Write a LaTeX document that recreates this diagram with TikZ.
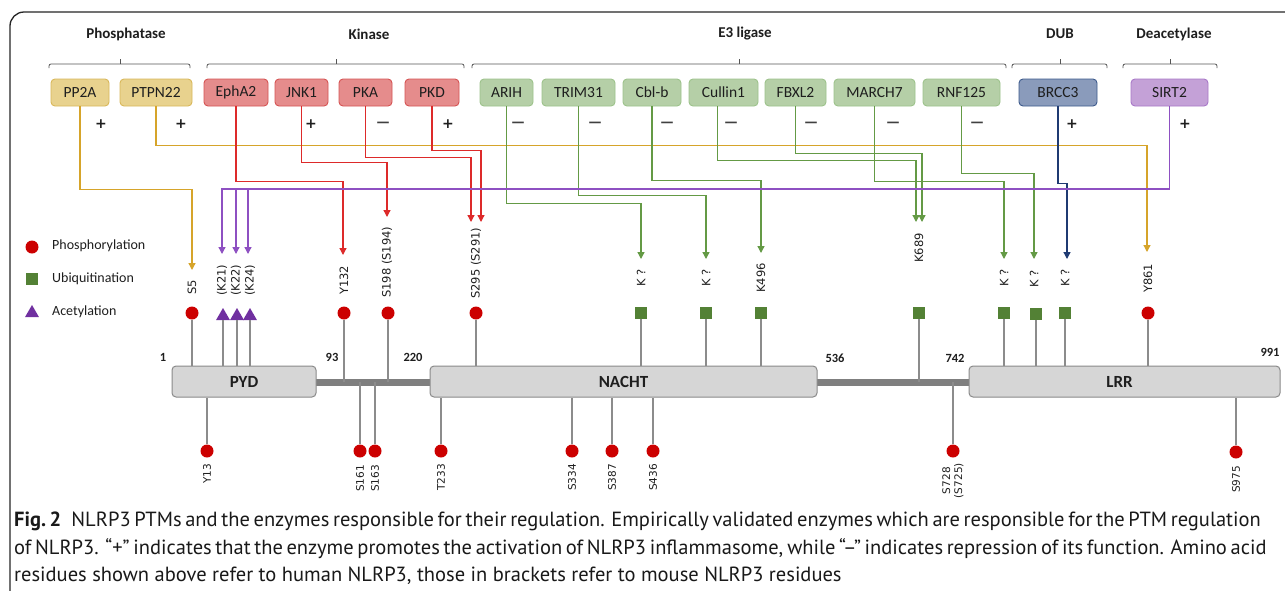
\documentclass[tikz,border=0pt]{standalone}
\usepackage{fontspec}
\setmainfont{Carlito}
\newfontfamily\resfont{DejaVu Sans}
\newfontfamily\signfont{DejaVu Sans}
\newfontfamily\capfont{PT Sans}
\usetikzlibrary{arrows.meta,shapes.geometric}
\definecolor{phF}{HTML}{E8D28E}\definecolor{phD}{HTML}{D9B85A}
\definecolor{kiF}{HTML}{E58C8C}\definecolor{kiD}{HTML}{D65454}
\definecolor{e3F}{HTML}{B5CFA7}\definecolor{e3D}{HTML}{9DC38B}
\definecolor{dbF}{HTML}{8A9BBB}\definecolor{dbD}{HTML}{3D5A8C}
\definecolor{siF}{HTML}{C4A1D7}\definecolor{siD}{HTML}{A878C8}
\definecolor{cGold}{HTML}{D6A42A}
\definecolor{cRed}{HTML}{DD2A2A}
\definecolor{cGreen}{HTML}{649A45}
\definecolor{cPurp}{HTML}{8E50C2}
\definecolor{cNavy}{HTML}{1F3A72}
\definecolor{phosC}{HTML}{CC0000}
\definecolor{ubiC}{HTML}{538135}
\definecolor{acetC}{HTML}{7030A0}
\definecolor{stemC}{HTML}{8C8C8C}
\definecolor{domF}{HTML}{D6D6D6}
\definecolor{domD}{HTML}{8A8A8A}
\definecolor{lnkC}{HTML}{7F7F7F}
\definecolor{txtC}{HTML}{1E1E1E}
\definecolor{brkC}{HTML}{555555}
\begin{document}
\begin{tikzpicture}[x=1pt,y=-1pt,
  headtext/.style={font=\fontsize{15}{15}\selectfont\bfseries, text=txtC, inner sep=0pt},
  brk/.style={draw=brkC, line width=0.8pt, rounded corners=2pt},
  enz/.style={rounded corners=4pt, minimum height=27pt, inner sep=0pt, line width=0.9pt,
              font=\fontsize{15.5}{15.5}\selectfont, text=txtC},
  phb/.style={enz, fill=phF, draw=phD},
  kib/.style={enz, fill=kiF, draw=kiD},
  e3b/.style={enz, fill=e3F, draw=e3D},
  dbb/.style={enz, fill=dbF, draw=dbD},
  sib/.style={enz, fill=siF, draw=siD},
  plussign/.style={font=\signfont\bfseries\fontsize{14}{14}\selectfont, text=txtC, inner sep=0pt},
  minussign/.style={font=\signfont\bfseries\fontsize{13}{13}\selectfont, text=black!75, inner sep=0pt},
  conn/.style={line width=1.3pt, -{Triangle[width=7pt,length=7pt]}},
  phos/.style={circle, fill=phosC, minimum size=13pt, inner sep=0pt},
  ubi/.style={rectangle, fill=ubiC, minimum size=12pt, inner sep=0pt},
  acet/.style={regular polygon, regular polygon sides=3, fill=acetC, minimum size=16pt, inner sep=0pt},
  stemline/.style={draw=stemC, line width=1.2pt},
  toplab/.style={rotate=90, anchor=west, inner sep=0pt, font=\resfont\fontsize{11.5}{12}\selectfont, text=black!88},
  botlab/.style={rotate=90, anchor=east, inner sep=0pt, align=center, font=\resfont\fontsize{10.5}{12}\selectfont, text=black!88},
  dom/.style={draw=domD, fill=domF, rounded corners=4pt, minimum height=31pt, line width=1pt, inner sep=0pt,
              font=\fontsize{17}{17}\selectfont\bfseries, text=txtC},
  linkerbar/.style={draw=lnkC, line width=7pt},
  numtext/.style={font=\fontsize{12.5}{12.5}\selectfont\bfseries, text=txtC, inner sep=0pt},
  lgtext/.style={anchor=west, inner sep=0pt, font=\fontsize{14}{14}\selectfont, text=txtC},
  captext/.style={anchor=west, inner sep=0pt, font=\capfont\fontsize{20.5}{20.5}\selectfont, text=black!90}
]
\useasboundingbox (0,0) rectangle (1285,590);
\fill[white] (0,0) rectangle (1285,590);
\draw[line width=1.3pt, draw=black!85, rounded corners=14pt] (1300,12) -- (10,12) -- (10,600);

% group headings
\node[headtext] (h-ph) at (126,34) {Phosphatase};
\node[headtext] (h-ki) at (369,34) {Kinase};
\node[headtext] (h-e3) at (745,34) {E3 ligase};
\node[headtext] (h-dub) at (1060,34) {DUB};
\node[headtext] (h-dac) at (1174,34) {Deacetylase};

% brackets
\draw[brk] (49,68) |- (190,64) -- (190,68);   \draw[brk] (120,64) -- (120,59);
\draw[brk] (207,68) |- (464,64) -- (464,68);  \draw[brk] (336,64) -- (336,59);
\draw[brk] (472,68) |- (1006,64) -- (1006,68); \draw[brk] (739,64) -- (739,59);
\draw[brk] (1012,68) |- (1107,64) -- (1107,68); \draw[brk] (1060,64) -- (1060,59);
\draw[brk] (1123,68) |- (1217,64) -- (1217,68); \draw[brk] (1170,64) -- (1170,59);

% enzyme boxes
\node[phb, minimum width=58pt] (pp2a) at (80,92.5) {PP2A};
\node[phb, minimum width=72pt] (ptpn22) at (156,92.5) {PTPN22};
\node[kib, minimum width=64pt] (epha2) at (236,92.5) {EphA2};
\node[kib, minimum width=53pt] (jnk1) at (301.5,92.5) {JNK1};
\node[kib, minimum width=53pt] (pka) at (365.5,92.5) {PKA};
\node[kib, minimum width=54pt] (pkd) at (432,92.5) {PKD};
\node[e3b, minimum width=53pt] (arih) at (506.5,92.5) {ARIH};
\node[e3b, minimum width=73pt] (trim31) at (578.5,92.5) {TRIM31};
\node[e3b, minimum width=58pt] (cblb) at (652,92.5) {Cbl-b};
\node[e3b, minimum width=69pt] (cullin1) at (723.5,92.5) {Cullin1};
\node[e3b, minimum width=61pt] (fbxl2) at (795.5,92.5) {FBXL2};
\node[e3b, minimum width=81pt] (march7) at (874.5,92.5) {MARCH7};
\node[e3b, minimum width=77pt] (rnf125) at (961.5,92.5) {RNF125};
\node[dbb, minimum width=78pt] (brcc3) at (1058,92.5) {BRCC3};
\node[sib, minimum width=77pt] (sirt2) at (1169.5,92.5) {SIRT2};

% signs
\node[plussign] (s1) at (101,124) {+};
\node[plussign] (s2) at (181,124) {+};
\node[plussign] (s3) at (311,124) {+};
\node[minussign] (s4) at (383,124) {—};
\node[plussign] (s5) at (448,124) {+};
\node[minussign] (s6) at (518,124) {—};
\node[minussign] (s7) at (595,124) {—};
\node[minussign] (s8) at (667,124) {—};
\node[minussign] (s9) at (731,124) {—};
\node[minussign] (s10) at (811,124) {—};
\node[minussign] (s11) at (893,124) {—};
\node[minussign] (s12) at (977,124) {—};
\node[plussign] (s13) at (1072,124) {+};
\node[plussign] (s14) at (1185,124) {+};

% legend
\node[phos] (lg-p) at (32,247) {};
\node[lgtext] (lg-pt) at (52,246) {Phosphorylation};
\node[ubi] (lg-u) at (32,279) {};
\node[lgtext] (lg-ut) at (52,279) {Ubiquitination};
\node[acet] (lg-a) at (32,313) {};
\node[lgtext] (lg-at) at (52,312) {Acetylation};

% domains
\coordinate (lnk) at (0,382);
\draw[linkerbar] (316,382) -- (430,382);
\draw[linkerbar] (817,382) -- (969,382);
\node[dom, minimum width=144pt] (pyd) at (244,381.5) {PYD};
\node[dom, minimum width=387pt] (nacht) at (623.5,381.5) {NACHT};
\node[dom, minimum width=311pt] (lrr) at (1124.5,381.5) {\hspace*{-10pt}LRR};

% numbers
\node[numtext] (n1) at (163,357) {1};
\node[numtext] (n93) at (332,357) {93};
\node[numtext] (n220) at (413,357) {220};
\node[numtext] (n536) at (835,358) {536};
\node[numtext] (n742) at (955,358) {742};
\node[numtext] (n991) at (1270,352) {991};

% top markers
\node[phos] (m-s5) at (192,313) {};
\node[acet] (m-k21) at (223,316) {};
\node[acet] (m-k22) at (237,316) {};
\node[acet] (m-k24) at (250,316) {};
\node[phos] (m-y132) at (344,313) {};
\node[phos] (m-s198) at (388,313) {};
\node[phos] (m-s295) at (476,313) {};
\node[ubi] (m-kq1) at (641,313) {};
\node[ubi] (m-kq2) at (706,313) {};
\node[ubi] (m-k496) at (761,313) {};
\node[ubi] (m-k689) at (919,313) {};
\node[ubi] (m-kq3) at (1004,313) {};
\node[ubi] (m-kq4) at (1036,314) {};
\node[ubi] (m-kq5) at (1065,313) {};
\node[phos] (m-y861) at (1148,313) {};

\draw[stemline] (m-s5.south) -- (m-s5 |- pyd.north);
\draw[stemline] (m-k21.south) -- (m-k21 |- pyd.north);
\draw[stemline] (m-k22.south) -- (m-k22 |- pyd.north);
\draw[stemline] (m-k24.south) -- (m-k24 |- pyd.north);
\draw[stemline] (m-y132.south) -- (m-y132 |- lnk);
\draw[stemline] (m-s198.south) -- (m-s198 |- lnk);
\draw[stemline] (m-s295.south) -- (m-s295 |- nacht.north);
\draw[stemline] (m-kq1.south) -- (m-kq1 |- nacht.north);
\draw[stemline] (m-kq2.south) -- (m-kq2 |- nacht.north);
\draw[stemline] (m-k496.south) -- (m-k496 |- nacht.north);
\draw[stemline] (m-k689.south) -- (m-k689 |- lnk);
\draw[stemline] (m-kq3.south) -- (m-kq3 |- lrr.north);
\draw[stemline] (m-kq4.south) -- (m-kq4 |- lrr.north);
\draw[stemline] (m-kq5.south) -- (m-kq5 |- lrr.north);
\draw[stemline] (m-y861.south) -- (m-y861 |- lrr.north);

% top labels
\node[toplab] (l-s5) at (192,295) {S5};
\node[toplab] (l-k21) at (222,296) {(K21)};
\node[toplab] (l-k22) at (236,296) {(K22)};
\node[toplab] (l-k24) at (250,296) {(K24)};
\node[toplab] (l-y132) at (344,295) {Y132};
\node[toplab] (l-s198) at (387,298) {S198 (S194)};
\node[toplab] (l-s295) at (476,299) {S295 (S291)};
\node[toplab] (l-kq1) at (641,287) {K ?};
\node[toplab] (l-kq2) at (706,287) {K ?};
\node[toplab] (l-k496) at (761,293) {K496};
\node[toplab] (l-k689) at (919,263) {K689};
\node[toplab] (l-kq3) at (1004,287) {K ?};
\node[toplab] (l-kq4) at (1034,288) {K ?};
\node[toplab] (l-kq5) at (1065,287) {K ?};
\node[toplab] (l-y861) at (1148,293) {Y861};

% bottom markers
\node[phos] (m-y13) at (207,451) {};
\node[phos] (m-s161) at (360,451) {};
\node[phos] (m-s163) at (375,451) {};
\node[phos] (m-t233) at (441,451) {};
\node[phos] (m-s334) at (572,451) {};
\node[phos] (m-s387) at (612,451) {};
\node[phos] (m-s436) at (653,451) {};
\node[phos] (m-s728) at (953,451) {};
\node[phos] (m-s975) at (1236,452) {};
\draw[stemline] (m-y13.north) -- (m-y13 |- pyd.south);
\draw[stemline] (m-s161.north) -- (m-s161 |- lnk);
\draw[stemline] (m-s163.north) -- (m-s163 |- lnk);
\draw[stemline] (m-t233.north) -- (m-t233 |- nacht.south);
\draw[stemline] (m-s334.north) -- (m-s334 |- nacht.south);
\draw[stemline] (m-s387.north) -- (m-s387 |- nacht.south);
\draw[stemline] (m-s436.north) -- (m-s436 |- nacht.south);
\draw[stemline] (m-s728.north) -- (m-s728 |- lnk);
\draw[stemline] (m-s975.north) -- (m-s975 |- lrr.south);

% bottom labels
\node[botlab] (l-y13) at (207,464) {Y13};
\node[botlab] (l-s161) at (360,465) {S161};
\node[botlab] (l-s163) at (375,465) {S163};
\node[botlab] (l-t233) at (441,464) {T233};
\node[botlab] (l-s334) at (572,464) {S334};
\node[botlab] (l-s387) at (612,464) {S387};
\node[botlab] (l-s436) at (653,464) {S436};
\node[botlab] (l-s728) at (953,463) {S728\\(S725)};
\node[botlab] (l-s975) at (1236,466) {S975};

% arrow tips
\coordinate (a-s5) at (192,270);
\coordinate (a-k21) at (222,254);
\coordinate (a-k22) at (236,254);
\coordinate (a-k24) at (248,254);
\coordinate (a-y132) at (343,255);
\coordinate (a-s198) at (387,217);
\coordinate (a-s295a) at (471,222);
\coordinate (a-s295b) at (481,222);
\coordinate (a-kq1) at (641,259);
\coordinate (a-kq2) at (706,259);
\coordinate (a-k496) at (761,253);
\coordinate (a-k689a) at (916,222);
\coordinate (a-k689b) at (922,222);
\coordinate (a-kq3) at (1004,259);
\coordinate (a-kq4) at (1034,259);
\coordinate (a-kq5) at (1067,259);
\coordinate (a-y861) at (1147,252);
\coordinate (hp) at (0,189);

% connectors
\draw[conn, cGold] (pp2a.south) -- ++(0,83) -| (a-s5);
\draw[conn, cGold] (ptpn22.south) -- ++(0,39) -| (a-y861);
\draw[conn, cRed] (epha2.south) -- ++(0,75) -| (a-y132);
\draw[conn, cRed] (jnk1.south) -- ++(0,56) -| (a-s198);
\draw[conn, cRed] (pka.south) -- ++(0,51) -| (a-s295a);
\draw[conn, cRed] (pkd.south) -- ++(0,44) -| (a-s295b);
\draw[conn, cGreen] (arih.south) -- ++(0,97) -| (a-kq1);
\draw[conn, cGreen] (trim31.south) -- ++(0,89) -| (a-kq2);
\draw[conn, cGreen] (cblb.south) -- ++(0,74) -| (a-k496);
\draw[conn, cGreen] ([xshift=-6pt]cullin1.south) -- ++(0,54) -| (a-k689a);
\draw[conn, cGreen] (fbxl2.south) -- ++(0,47) -| (a-k689b);
\draw[conn, cGreen] (march7.south) -- ++(0,75) -| (a-kq3);
\draw[conn, cGreen] (rnf125.south) -- ++(0,67) -| (a-kq4);
\draw[conn, cNavy] (brcc3.south) -- ++(0,77) -| (a-kq5);
\draw[conn, cPurp] (sirt2.south) -- (sirt2.south |- hp) -| (a-k21);
\draw[conn, cPurp] (a-k22 |- hp) -- (a-k22);
\draw[conn, cPurp] (a-k24 |- hp) -- (a-k24);

% caption
\node[captext] (c1) at (14,521) {\makebox[1244pt][s]{\textbf{Fig.\,2}\hspace{0.5em}NLRP3 PTMs and the enzymes responsible for their regulation. Empirically validated enzymes which are responsible for the PTM regulation}};
\node[captext] (c2) at (14,549) {\makebox[1251pt][s]{of NLRP3. “+” indicates that the enzyme promotes the activation of NLRP3 inflammasome, while “–” indicates repression of its function. Amino acid}};
\node[captext] (c3) at (14,576) {residues shown above refer to human NLRP3, those in brackets refer to mouse NLRP3 residues};
\end{tikzpicture}
\end{document}
